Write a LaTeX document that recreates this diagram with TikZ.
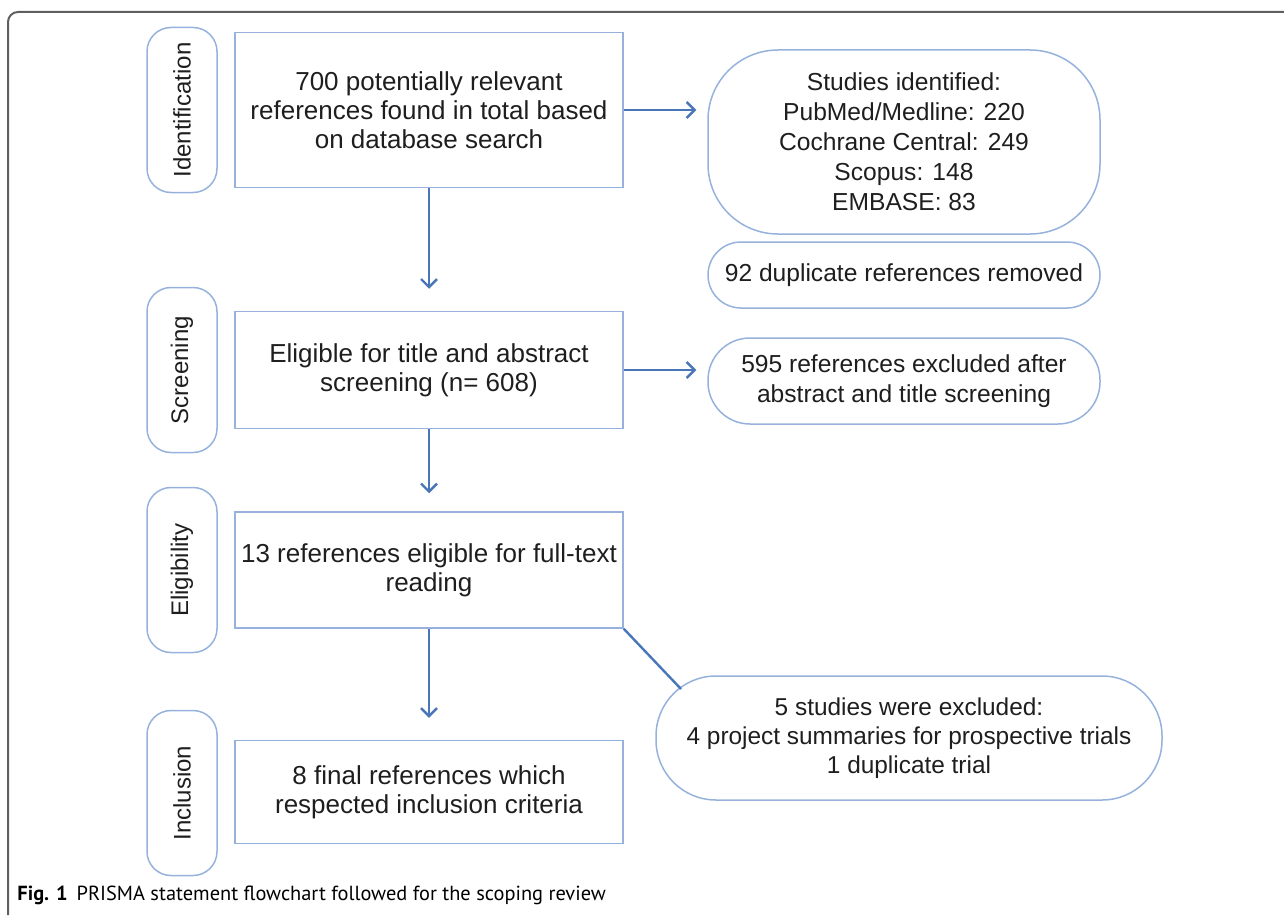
\documentclass[tikz,border=0pt]{standalone}
\usepackage{fontspec}
\setmainfont{Liberation Sans}
\newfontfamily\capfont{PT Sans}
\usetikzlibrary{
    positioning,
    arrows.meta
}
\definecolor{BoxBlue}{RGB}{150,178,220}
\definecolor{ArrowBlue}{RGB}{72,118,184}
\definecolor{FrameGray}{RGB}{95,95,95}
\definecolor{TextDark}{RGB}{30,30,30}

\begin{document}
\begin{tikzpicture}[
            x=0.5pt, y=-0.5pt,
            >={Straight Barb[length=4pt,width=8pt]},
            line width=0.75pt,
            text=TextDark,
            stagebox/.style={draw=BoxBlue, rounded corners=12pt, rotate=90,
                minimum width=82.5pt, minimum height=35pt, inner sep=0pt,
                font=\fontsize{12}{14}\selectfont},
            mainbox/.style={draw=BoxBlue, minimum width=194pt, align=center,
                inner sep=0pt, font=\fontsize{13}{14.6}\selectfont},
            sidebox/.style={draw=BoxBlue, minimum width=196pt, align=center,
                inner sep=0pt, font=\fontsize{12.3}{15}\selectfont},
            flow/.style={draw=ArrowBlue, line width=1.2pt, ->},
        ]
        \useasboundingbox (0,0) rectangle (1284,915);

        % Outer frame
        \draw[FrameGray, line width=1pt, rounded corners=5pt] (1284,12) -- (8,12) -- (8,915);

        % Stage labels
        \node[stagebox] (stageId) at (182,110) {Identification};
        \node[stagebox] (stageScr) at (182,370) {Screening};
        \node[stagebox] (stageElig) at (182,570) {Eligibility};
        \node[stagebox] (stageIncl) at (182,793) {Inclusion};

        % Main column
        \node[mainbox, minimum height=77.5pt] (boxTotal) at (429,110) {700 potentially relevant\\references found in total based\\on database search};
        \node[mainbox, minimum height=58.5pt] (boxScreen) at (429,370) {Eligible for title and abstract\\screening (n= 608)};
        \node[mainbox, minimum height=58pt] (boxFull) at (429,570) {13 references eligible for full-text\\reading};
        \node[mainbox, minimum height=51.5pt] (boxFinal) at (429,792) {8 final references which\\respected inclusion criteria};

        % Side boxes
        \node[sidebox, rounded corners=35pt, minimum height=92pt] (sideDb) at (904,142) {Studies identified:\\PubMed/Medline: 220\\Cochrane Central: 249\\Scopus: 148\\EMBASE: 83};
        \node[sidebox, rounded corners=16.5pt, minimum height=33pt] (sideDup) at (904,275) {92 duplicate references removed};
        \node[sidebox, rounded corners=21pt, minimum height=43pt] (sideAbs) at (904,381) {595 references excluded after\\abstract and title screening};
        \node[sidebox, rounded corners=30pt, minimum width=253pt, minimum height=62pt,
            font=\fontsize{12.2}{14.5}\selectfont] (sideExcl) at (909,738) {5 studies were excluded:\\4 project summaries for prospective trials\\1 duplicate trial};

        % Flow arrows
        \draw[flow, shorten >=5.5pt] (boxTotal.east) -- (boxTotal.east -| sideDb.west);
        \draw[flow, shorten >=5.5pt] (boxScreen.east) -- (boxScreen.east -| sideAbs.west);
        \draw[flow, shorten >=11pt] (boxTotal.south) -- (boxScreen.north);
        \draw[flow, shorten >=9pt] (boxScreen.south) -- (boxFull.north);
        \draw[flow, shorten >=11pt] (boxFull.south) -- (boxFinal.north);

        % Link to excluded studies
        \coordinate (exclJoin) at (681,689);
        \draw[ArrowBlue, line width=1.2pt] (boxFull.south east) -- (exclJoin);

        % Caption
        \node[anchor=west, text=black, font=\capfont\fontsize{10.2}{12}\selectfont] (caption) at (10,895)
            {\textbf{Fig. 1}\hspace{4.5pt}PRISMA statement flowchart followed for the scoping review};
        \end{tikzpicture}
\end{document}
